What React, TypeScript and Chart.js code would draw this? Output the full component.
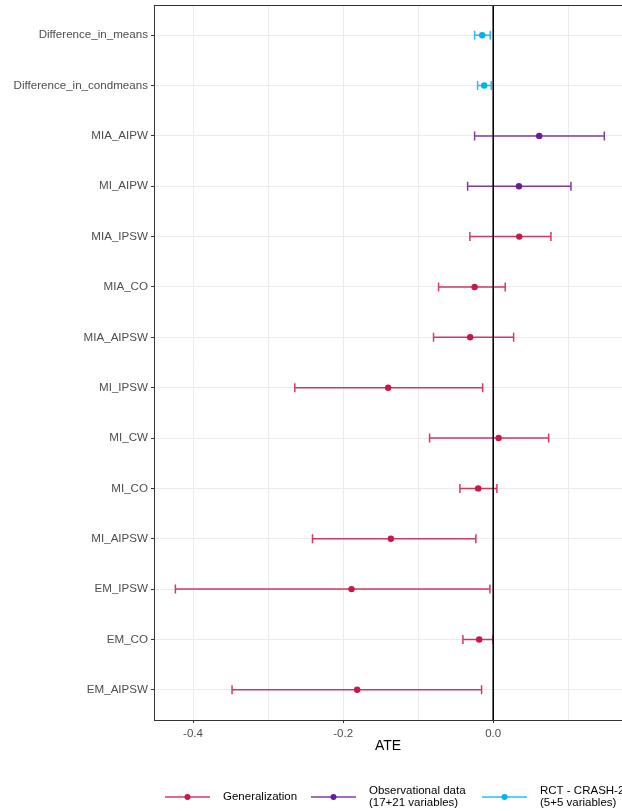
import React, { useEffect, useRef } from "react";
import { Chart, registerables } from "chart.js";

Chart.register(...registerables);

const methods = [
  "Difference_in_means",
  "Difference_in_condmeans",
  "MIA_AIPW",
  "MI_AIPW",
  "MIA_IPSW",
  "MIA_CO",
  "MIA_AIPSW",
  "MI_IPSW",
  "MI_CW",
  "MI_CO",
  "MI_AIPSW",
  "EM_IPSW",
  "EM_CO",
  "EM_AIPSW",
];
const estimates = [-0.0147, -0.012, 0.0613, 0.0343, 0.0347, -0.0248, -0.0307, -0.14, 0.0072, -0.02, -0.1364, -0.1888, -0.0187, -0.1813];
const lowerCI = [-0.0248, -0.0208, -0.0248, -0.0341, -0.0311, -0.0728, -0.0795, -0.2644, -0.0848, -0.0444, -0.2408, -0.4235, -0.0404, -0.348];
const upperCI = [-0.004, -0.0027, 0.148, 0.1036, 0.0769, 0.016, 0.0272, -0.0141, 0.0739, 0.0049, -0.0231, -0.0044, -0.0004, -0.0155];
const methodGroup = ["rct", "rct", "obs", "obs", "gen", "gen", "gen", "gen", "gen", "gen", "gen", "gen", "gen", "gen"];

const groupKeys = ["gen", "obs", "rct"];
const groupLabels = [["Generalization"], ["Observational data", "(17+21 variables)"], ["RCT - CRASH-2", "(5+5 variables)"]];
const groupColors = ["#C8184A", "#6A1B9A", "#00B2EE"];
const groupLineColors = ["rgba(200,24,74,0.85)", "rgba(106,27,154,0.85)", "rgba(0,178,238,0.85)"];

const xTickValues = [-0.4, -0.3, -0.2, -0.1, 0, 0.1];
const xTickLabels = ["-0.4", "", "-0.2", "", "0.0", ""];
const xAxisTitle = "ATE";
const referenceLineValue = 0;

const FONT = "'Liberation Sans', Arial, Helvetica, sans-serif";

const errorBarPlugin = {
  id: "errorBars",
  beforeDatasetsDraw(chart: any) {
    const { ctx, scales, chartArea } = chart;
    const xs = scales.x;
    const ys = scales.y;
    ctx.save();
    for (let i = 0; i < methods.length; i++) {
      const g = groupKeys.indexOf(methodGroup[i]);
      const x1 = xs.getPixelForValue(lowerCI[i]);
      const x2 = xs.getPixelForValue(upperCI[i]);
      const y = ys.getPixelForValue(i);
      ctx.strokeStyle = groupLineColors[g];
      ctx.lineWidth = 1.5;
      ctx.beginPath();
      ctx.moveTo(x1, y);
      ctx.lineTo(x2, y);
      ctx.moveTo(x1, y - 4.5);
      ctx.lineTo(x1, y + 4.5);
      ctx.moveTo(x2, y - 4.5);
      ctx.lineTo(x2, y + 4.5);
      ctx.stroke();
    }
    // vertical reference line on top of the error bars
    const x0 = xs.getPixelForValue(referenceLineValue);
    ctx.strokeStyle = "#000000";
    ctx.lineWidth = 1.6;
    ctx.beginPath();
    ctx.moveTo(x0, chartArea.top);
    ctx.lineTo(x0, chartArea.bottom);
    ctx.stroke();
    ctx.restore();
  },
};

const legendItemX = [165, 311, 482];

const frameAndLegendPlugin = {
  id: "frameLegend",
  afterDraw(chart: any) {
    const { ctx, chartArea } = chart;
    ctx.save();
    // top panel border
    ctx.strokeStyle = "#333333";
    ctx.lineWidth = 1;
    ctx.beginPath();
    ctx.moveTo(chartArea.left, Math.round(chartArea.top) + 0.5);
    ctx.lineTo(chartArea.right, Math.round(chartArea.top) + 0.5);
    ctx.stroke();

    // legend
    ctx.font = `11.5px ${FONT}`;
    ctx.textBaseline = "middle";
    ctx.textAlign = "left";
    const yc = 797;
    for (let g = 0; g < groupKeys.length; g++) {
      const x = legendItemX[g];
      ctx.strokeStyle = groupLineColors[g];
      ctx.lineWidth = 1.5;
      ctx.beginPath();
      ctx.moveTo(x, yc);
      ctx.lineTo(x + 45, yc);
      ctx.stroke();
      ctx.fillStyle = groupColors[g];
      ctx.beginPath();
      ctx.arc(x + 22.5, yc, 3, 0, Math.PI * 2);
      ctx.fill();
      ctx.fillStyle = "#000000";
      const lines = groupLabels[g];
      lines.forEach((t, k) => {
        const ly = lines.length === 1 ? yc : yc - 6 + k * 12;
        ctx.fillText(t, x + 58, ly);
      });
    }
    ctx.restore();
  },
};

export default function App() {
  const canvasRef = useRef<HTMLCanvasElement | null>(null);

  useEffect(() => {
    if (!canvasRef.current) return;
    const datasets = groupKeys.map((g, gi) => ({
      label: groupLabels[gi].join(" "),
      data: methods
        .map((_, i) => i)
        .filter((i) => methodGroup[i] === g)
        .map((i) => ({ x: estimates[i], y: i })),
      backgroundColor: groupColors[gi],
      borderColor: groupColors[gi],
      pointRadius: 3.2,
      pointHoverRadius: 3.2,
      borderWidth: 0,
      showLine: false,
    }));

    const chart = new Chart(canvasRef.current, {
      type: "scatter",
      data: { datasets },
      options: {
        animation: false,
        responsive: false,
        maintainAspectRatio: false,
        events: [],
        layout: { autoPadding: false, padding: { top: 5, right: 0, left: 0, bottom: 56 } },
        plugins: { legend: { display: false }, tooltip: { enabled: false } },
        scales: {
          x: {
            type: "linear",
            min: -0.452,
            max: 0.1716,
            afterBuildTicks: (s: any) => {
              s.ticks = xTickValues.map((v) => ({ value: v }));
            },
            afterFit: (s: any) => {
              s.height = 35;
              s.paddingLeft = 0;
              s.paddingRight = 0;
            },
            ticks: {
              autoSkip: false,
              maxRotation: 0,
              padding: 4,
              color: "#4D4D4D",
              font: { family: FONT, size: 11.5 },
              callback: (v: any) => {
                const idx = xTickValues.findIndex((t) => Math.abs(t - v) < 1e-9);
                return idx >= 0 ? xTickLabels[idx] : "";
              },
            },
            grid: {
              color: "#EBEBEB",
              lineWidth: 1,
              tickLength: 3,
              tickColor: (c: any) => {
                if (!c.tick) return "#333333";
                const idx = xTickValues.findIndex((t) => Math.abs(t - c.tick.value) < 1e-9);
                return idx >= 0 && xTickLabels[idx] !== "" ? "#333333" : "rgba(0,0,0,0)";
              },
            },
            border: { display: true, color: "#333333", width: 1 },
            title: {
              display: true,
              text: xAxisTitle,
              color: "#000000",
              font: { family: FONT, size: 14 },
              padding: { top: 5, bottom: 0 },
            },
          },
          y: {
            type: "linear",
            reverse: true,
            min: -0.6,
            max: methods.length - 1 + 0.6,
            afterBuildTicks: (s: any) => {
              s.ticks = methods.map((_, i) => ({ value: i }));
            },
            afterFit: (s: any) => {
              s.width = 154;
              s.paddingTop = 0;
              s.paddingBottom = 0;
            },
            ticks: {
              autoSkip: false,
              padding: 3,
              color: "#4D4D4D",
              font: { family: FONT, size: 11.6 },
              callback: (v: any) => methods[Math.round(v)] ?? "",
            },
            grid: {
              color: "#EBEBEB",
              lineWidth: 1,
              tickLength: 3,
              tickColor: "#333333",
            },
            border: { display: true, color: "#333333", width: 1 },
          },
        },
      },
      plugins: [errorBarPlugin, frameAndLegendPlugin],
    });
    return () => chart.destroy();
  }, []);

  return (
    <div style={{ position: "fixed", left: 0, top: 0, width: 622, height: 811, overflow: "hidden", background: "#fff" }}>
      <canvas ref={canvasRef} width={622} height={811} style={{ display: "block", width: 622, height: 811 }} />
    </div>
  );
}
